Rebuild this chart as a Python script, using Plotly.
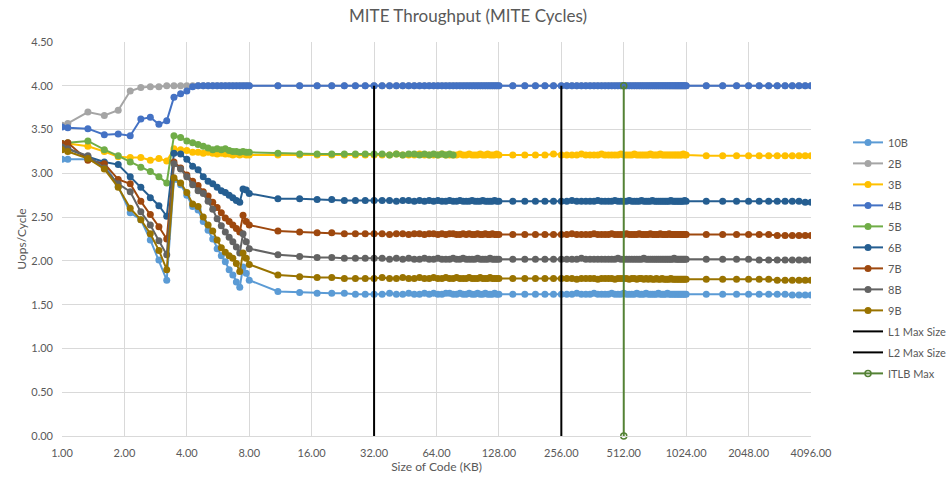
import math
import plotly.graph_objects as go

# Code size (KB) of every measured block
size_kb = [
    1.0, 1.0667, 1.3333, 1.6, 1.8667, 2.1333, 2.4, 2.6667, 2.9333, 3.2,
    3.4667, 3.7333, 4.0, 4.2667, 4.5333, 4.8, 5.0667, 5.3333, 5.6, 5.8667,
    6.1333, 6.4, 6.6667, 6.9333, 7.2, 7.4667, 7.7333, 8.0,
    11, 14, 17, 20, 23, 26, 29,
    32, 35, 38, 41, 44, 47, 50, 53, 56, 59, 62,
    65, 68, 71, 74, 77, 80, 83, 86, 89, 92, 95,
    98, 101, 104, 107, 110, 113, 116, 119, 122, 125, 128,
    149.33, 170.67, 192, 213.33, 234.67,
    256, 272, 288, 304, 320, 336, 352,
    368, 384, 400, 416, 432, 448, 464,
    480, 496, 512, 528, 544, 560, 576,
    592, 608, 624, 640, 656, 672, 688,
    704, 720, 736, 752, 768, 784, 800,
    816, 832, 848, 864, 880, 896, 912,
    928, 944, 960, 976, 992, 1008, 1024,
    1280, 1536, 1792, 2048, 2304, 2560, 2816, 3072, 3328, 3584, 3840, 4096,
]

# Uops per MITE cycle for each instruction length
uops_10b = [
    3.16, 3.16, 3.16, 3.11, 2.85, 2.55, 2.47, 2.24, 2.01, 1.78,
    2.93, 2.87, 2.75, 2.62, 2.58, 2.45, 2.35, 2.25, 2.14, 2.06,
    1.99, 1.90, 1.84, 1.76, 1.70, 1.93, 1.86, 1.78,
    1.65, 1.64, 1.63, 1.63, 1.63, 1.62, 1.62,
    1.62, 1.62, 1.63, 1.62, 1.62, 1.63, 1.62, 1.62, 1.63, 1.62, 1.63,
    1.62, 1.62, 1.63, 1.63, 1.62, 1.62, 1.63, 1.62, 1.62, 1.63, 1.62,
    1.62, 1.63, 1.62, 1.62, 1.63, 1.62, 1.62, 1.62, 1.63, 1.62, 1.62,
    1.62, 1.62, 1.62, 1.62, 1.62,
    1.62, 1.62, 1.62, 1.63, 1.62, 1.62, 1.62,
    1.63, 1.62, 1.62, 1.62, 1.62, 1.63, 1.62,
    1.62, 1.62, 1.63, 1.62, 1.62, 1.62, 1.62,
    1.63, 1.62, 1.62, 1.62, 1.63, 1.62, 1.62,
    1.62, 1.62, 1.62, 1.63, 1.62, 1.62, 1.62,
    1.62, 1.63, 1.62, 1.62, 1.62, 1.62, 1.62,
    1.62, 1.62, 1.62, 1.62, 1.62, 1.62, 1.62,
    1.62, 1.62, 1.62, 1.62, 1.62, 1.62, 1.62, 1.62, 1.61, 1.61, 1.61, 1.61,
]

uops_2b = [
    3.55, 3.57, 3.70, 3.66, 3.72, 3.94, 3.98, 3.99, 3.99, 4.00,
    4.00, 4.00, 4.00, 4.00, 4.00, 4.00, 4.00, 4.00, 4.00, 4.00,
    4.00, 4.00, 4.00, 4.00, 4.00, 4.00, 4.00, 4.00,
    4.00, 4.00, 4.00, 4.00, 4.00, 4.00, 4.00,
    4.00, 4.00, 4.00, 4.00, 4.00, 4.00, 4.00, 4.00, 4.00, 4.00, 4.00,
    4.00, 4.00, 4.00, 4.00, 4.00, 4.00, 4.00, 4.00, 4.00, 4.00, 4.00,
    4.00, 4.00, 4.00, 4.00, 4.00, 4.00, 4.00, 4.00, 4.00, 4.00, 4.00,
    4.00, 4.00, 4.00, 4.00, 4.00,
    4.00, 4.00, 4.00, 4.00, 4.00, 4.00, 4.00,
    4.00, 4.00, 4.00, 4.00, 4.00, 4.00, 4.00,
    4.00, 4.00, 4.00, 4.00, 4.00, 4.00, 4.00,
    4.00, 4.00, 4.00, 4.00, 4.00, 4.00, 4.00,
    4.00, 4.00, 4.00, 4.00, 4.00, 4.00, 4.00,
    4.00, 4.00, 4.00, 4.00, 4.00, 4.00, 4.00,
    4.00, 4.00, 4.00, 4.00, 4.00, 4.00, 4.00,
    4.00, 4.00, 4.00, 4.00, 4.00, 4.00, 4.00, 4.00, 4.00, 4.00, 4.00, 4.00,
]

uops_3b = [
    3.33, 3.34, 3.31, 3.25, 3.19, 3.18, 3.18, 3.15, 3.17, 3.14,
    3.28, 3.27, 3.26, 3.24, 3.24, 3.23, 3.24, 3.23, 3.22, 3.23,
    3.22, 3.22, 3.21, 3.22, 3.21, 3.22, 3.21, 3.21,
    3.21, 3.21, 3.21, 3.21, 3.21, 3.21, 3.21,
    3.21, 3.21, 3.21, 3.22, 3.21, 3.21, 3.21, 3.22, 3.21, 3.21, 3.21,
    3.21, 3.22, 3.21, 3.21, 3.21, 3.21, 3.22, 3.21, 3.21, 3.22, 3.21,
    3.21, 3.21, 3.22, 3.21, 3.21, 3.22, 3.21, 3.21, 3.21, 3.22, 3.21,
    3.21, 3.21, 3.21, 3.21, 3.22,
    3.21, 3.21, 3.21, 3.21, 3.22, 3.21, 3.21,
    3.21, 3.21, 3.22, 3.21, 3.21, 3.21, 3.21,
    3.21, 3.22, 3.21, 3.21, 3.21, 3.21, 3.22,
    3.21, 3.21, 3.21, 3.21, 3.21, 3.21, 3.22,
    3.21, 3.21, 3.21, 3.21, 3.22, 3.21, 3.21,
    3.21, 3.21, 3.21, 3.21, 3.21, 3.21, 3.21,
    3.21, 3.21, 3.21, 3.21, 3.22, 3.21, 3.21,
    3.20, 3.20, 3.20, 3.20, 3.20, 3.20, 3.20, 3.20, 3.20, 3.20, 3.20, 3.20,
]

uops_4b = [
    3.53, 3.52, 3.51, 3.44, 3.45, 3.43, 3.62, 3.64, 3.56, 3.60,
    3.87, 3.91, 3.94, 3.99, 4.00, 4.00, 4.00, 4.00, 4.00, 4.00,
    4.00, 4.00, 4.00, 4.00, 4.00, 4.00, 4.00, 4.00,
    4.00, 4.00, 4.00, 4.00, 4.00, 4.00, 4.00,
    4.00, 4.00, 4.00, 4.00, 4.00, 4.00, 4.00, 4.00, 4.00, 4.00, 4.00,
    4.00, 4.00, 4.00, 4.00, 4.00, 4.00, 4.00, 4.00, 4.00, 4.00, 4.00,
    4.00, 4.00, 4.00, 4.00, 4.00, 4.00, 4.00, 4.00, 4.00, 4.00, 4.00,
    4.00, 4.00, 4.00, 4.00, 4.00,
    4.00, 4.00, 4.00, 4.00, 4.00, 4.00, 4.00,
    4.00, 4.00, 4.00, 4.00, 4.00, 4.00, 4.00,
    4.00, 4.00, 4.00, 4.00, 4.00, 4.00, 4.00,
    4.00, 4.00, 4.00, 4.00, 4.00, 4.00, 4.00,
    4.00, 4.00, 4.00, 4.00, 4.00, 4.00, 4.00,
    4.00, 4.00, 4.00, 4.00, 4.00, 4.00, 4.00,
    4.00, 4.00, 4.00, 4.00, 4.00, 4.00, 4.00,
    4.00, 4.00, 4.00, 4.00, 4.00, 4.00, 4.00, 4.00, 4.00, 4.00, 4.00, 4.00,
]

# 5B was only measured up to 77 KB
uops_5b = [
    3.34, 3.35, 3.37, 3.27, 3.20, 3.13, 3.07, 3.02, 2.96, 2.89,
    3.43, 3.41, 3.37, 3.35, 3.33, 3.31, 3.29, 3.27, 3.28, 3.27,
    3.28, 3.26, 3.25, 3.25, 3.24, 3.25, 3.24, 3.24,
    3.23, 3.22, 3.22, 3.22, 3.22, 3.22, 3.22,
    3.22, 3.22, 3.21, 3.22, 3.21, 3.22, 3.22, 3.21, 3.22, 3.21, 3.22,
    3.21, 3.22, 3.21, 3.22, 3.21,
]

uops_6b = [
    3.30, 3.28, 3.19, 3.13, 3.10, 2.96, 2.84, 2.72, 2.63, 2.51,
    3.23, 3.22, 3.16, 3.08, 3.04, 2.96, 2.91, 2.88, 2.84, 2.80,
    2.78, 2.75, 2.72, 2.69, 2.67, 2.82, 2.81, 2.77,
    2.71, 2.71, 2.70, 2.70, 2.69, 2.69, 2.69,
    2.69, 2.69, 2.69, 2.68, 2.69, 2.69, 2.68, 2.69, 2.68, 2.69, 2.68,
    2.69, 2.68, 2.68, 2.69, 2.68, 2.68, 2.69, 2.68, 2.68, 2.68, 2.69,
    2.68, 2.68, 2.68, 2.69, 2.68, 2.68, 2.68, 2.68, 2.69, 2.68, 2.68,
    2.68, 2.68, 2.68, 2.68, 2.68,
    2.68, 2.68, 2.69, 2.68, 2.68, 2.68, 2.68,
    2.68, 2.69, 2.68, 2.68, 2.68, 2.68, 2.69,
    2.68, 2.68, 2.68, 2.68, 2.69, 2.68, 2.68,
    2.68, 2.68, 2.69, 2.68, 2.68, 2.68, 2.68,
    2.69, 2.68, 2.68, 2.68, 2.68, 2.68, 2.68,
    2.68, 2.68, 2.68, 2.69, 2.68, 2.68, 2.68,
    2.68, 2.68, 2.68, 2.68, 2.68, 2.69, 2.68,
    2.68, 2.68, 2.68, 2.68, 2.68, 2.68, 2.68, 2.68, 2.68, 2.68, 2.67, 2.67,
]

uops_7b = [
    3.34, 3.35, 3.15, 3.11, 2.93, 2.88, 2.68, 2.53, 2.39, 2.25,
    3.13, 3.06, 2.98, 2.91, 2.86, 2.79, 2.74, 2.67, 2.61, 2.55,
    2.49, 2.45, 2.41, 2.37, 2.33, 2.52, 2.45, 2.41,
    2.34, 2.33, 2.32, 2.32, 2.31, 2.31, 2.31,
    2.31, 2.31, 2.30, 2.31, 2.31, 2.30, 2.31, 2.31, 2.30, 2.31, 2.31,
    2.30, 2.31, 2.30, 2.31, 2.31, 2.30, 2.30, 2.31, 2.30, 2.31, 2.30,
    2.30, 2.31, 2.30, 2.30, 2.31, 2.30, 2.30, 2.31, 2.30, 2.30, 2.30,
    2.30, 2.30, 2.30, 2.30, 2.30,
    2.30, 2.30, 2.31, 2.30, 2.30, 2.30, 2.30,
    2.31, 2.30, 2.30, 2.30, 2.30, 2.31, 2.30,
    2.30, 2.30, 2.30, 2.31, 2.30, 2.30, 2.30,
    2.30, 2.31, 2.30, 2.30, 2.30, 2.30, 2.31,
    2.30, 2.30, 2.30, 2.30, 2.31, 2.30, 2.30,
    2.30, 2.30, 2.31, 2.30, 2.30, 2.30, 2.30,
    2.30, 2.30, 2.30, 2.30, 2.30, 2.30, 2.30,
    2.30, 2.30, 2.30, 2.30, 2.30, 2.30, 2.29, 2.29, 2.29, 2.29, 2.29, 2.29,
]

uops_8b = [
    3.30, 3.28, 3.20, 3.06, 2.88, 2.79, 2.56, 2.41, 2.23, 2.07,
    3.11, 3.05, 2.96, 2.87, 2.80, 2.77, 2.68, 2.59, 2.48, 2.40,
    2.33, 2.27, 2.22, 2.16, 2.09, 2.31, 2.22, 2.14,
    2.07, 2.05, 2.04, 2.04, 2.03, 2.03, 2.03,
    2.03, 2.03, 2.02, 2.03, 2.02, 2.03, 2.02, 2.02, 2.03, 2.02, 2.02,
    2.03, 2.02, 2.02, 2.02, 2.03, 2.02, 2.02, 2.03, 2.02, 2.02, 2.02,
    2.02, 2.03, 2.02, 2.02, 2.02, 2.02, 2.03, 2.02, 2.02, 2.02, 2.02,
    2.02, 2.02, 2.02, 2.02, 2.02,
    2.02, 2.02, 2.02, 2.02, 2.03, 2.02, 2.02,
    2.02, 2.02, 2.02, 2.02, 2.02, 2.02, 2.02,
    2.03, 2.02, 2.02, 2.02, 2.02, 2.02, 2.02,
    2.02, 2.02, 2.02, 2.03, 2.02, 2.02, 2.02,
    2.02, 2.02, 2.02, 2.02, 2.02, 2.02, 2.02,
    2.02, 2.02, 2.02, 2.02, 2.02, 2.03, 2.02,
    2.02, 2.02, 2.02, 2.02, 2.02, 2.02, 2.02,
    2.02, 2.02, 2.02, 2.02, 2.01, 2.01, 2.01, 2.01, 2.01, 2.01, 2.01, 2.01,
]

uops_9b = [
    3.27, 3.25, 3.17, 3.05, 2.84, 2.60, 2.47, 2.31, 2.12, 1.90,
    2.95, 2.89, 2.78, 2.65, 2.62, 2.50, 2.41, 2.34, 2.24, 2.15,
    2.10, 2.06, 2.03, 1.97, 1.88, 2.09, 2.03, 1.96,
    1.84, 1.82, 1.81, 1.81, 1.80, 1.80, 1.80,
    1.80, 1.81, 1.80, 1.80, 1.81, 1.80, 1.80, 1.81, 1.80, 1.80, 1.81,
    1.80, 1.80, 1.81, 1.80, 1.80, 1.81, 1.80, 1.80, 1.80, 1.81, 1.80,
    1.80, 1.80, 1.81, 1.80, 1.80, 1.80, 1.81, 1.80, 1.80, 1.80, 1.80,
    1.80, 1.80, 1.80, 1.80, 1.80,
    1.80, 1.80, 1.80, 1.79, 1.80, 1.80, 1.80,
    1.80, 1.79, 1.80, 1.80, 1.80, 1.80, 1.79,
    1.80, 1.80, 1.80, 1.80, 1.79, 1.80, 1.80,
    1.79, 1.80, 1.80, 1.79, 1.80, 1.79, 1.80,
    1.79, 1.79, 1.80, 1.79, 1.79, 1.80, 1.79,
    1.79, 1.79, 1.79, 1.80, 1.79, 1.79, 1.79,
    1.79, 1.79, 1.79, 1.79, 1.79, 1.79, 1.79,
    1.79, 1.79, 1.79, 1.79, 1.79, 1.79, 1.78, 1.78, 1.78, 1.78, 1.78, 1.78,
]

series_names = ["10B", "2B", "3B", "4B", "5B", "6B", "7B", "8B", "9B"]
series_values = [uops_10b, uops_2b, uops_3b, uops_4b, uops_5b,
                 uops_6b, uops_7b, uops_8b, uops_9b]
series_colors = ["#5B9BD5", "#A5A5A5", "#FFC000", "#4472C4", "#70AD47",
                 "#255E91", "#9E480E", "#636363", "#997300"]

# Cache / TLB capacity markers (KB) and their vertical extent
limit_names = ["L1 Max Size", "L2 Max Size", "ITLB Max"]
limit_sizes = [32, 256, 512]
limit_colors = ["#000000", "#000000", "#548235"]
limit_span = [0.0, 4.0]

tick_sizes = [1, 2, 4, 8, 16, 32, 64, 128, 256, 512, 1024, 2048, 4096]
tick_labels = [f"{v:.2f}" for v in tick_sizes]

FONT = "Lato, 'Open Sans', sans-serif"
TEXT = "#595959"
GRID = "#D9D9D9"

fig = go.Figure()

for name, vals, col in zip(series_names, series_values, series_colors):
    fig.add_trace(go.Scatter(
        x=size_kb[:len(vals)], y=vals, name=name, legendgroup=name,
        mode="lines+markers",
        line=dict(color=col, width=2),
        marker=dict(color=col, size=7),
    ))

for name, xv, col in zip(limit_names, limit_sizes, limit_colors):
    is_tlb = name.startswith("ITLB")
    fig.add_trace(go.Scatter(
        x=[xv, xv], y=limit_span, name=name, legendgroup=name,
        mode="lines+markers" if is_tlb else "lines",
        line=dict(color=col, width=2),
        marker=dict(symbol="circle-open", size=6, color=col, line=dict(width=1.5)),
        cliponaxis=False,
    ))

fig.update_layout(
    width=948, height=479,
    margin=dict(l=62, r=137, t=42, b=43, autoexpand=False),
    paper_bgcolor="white", plot_bgcolor="white",
    font=dict(family=FONT, color=TEXT, size=11),
    title=dict(text="MITE Throughput (MITE Cycles)", x=468 / 948, xanchor="center",
               y=1 - 16 / 479, yanchor="middle", yref="container",
               font=dict(family=FONT, size=17, color=TEXT)),
    showlegend=True,
    legend=dict(x=(848 - 62) / 749, xanchor="left", y=0.782, yanchor="top",
                font=dict(size=11, color=TEXT), tracegroupgap=2,
                bgcolor="rgba(0,0,0,0)", borderwidth=0),
    xaxis=dict(type="log", range=[0, math.log10(4096)],
               tickmode="array", tickvals=tick_sizes, ticktext=tick_labels,
               showgrid=True, gridcolor=GRID, gridwidth=1,
               showline=True, linecolor=GRID, linewidth=1, ticks="",
               ticklabelstandoff=7,
               tickfont=dict(size=11, color=TEXT),
               title=dict(text="Size of Code (KB)", standoff=4,
                          font=dict(size=12, color=TEXT))),
    yaxis=dict(range=[0, 4.5], dtick=0.5, tick0=0, tickformat=".2f",
               showgrid=True, gridcolor=GRID, gridwidth=1, zeroline=False,
               showline=False, ticks="", ticklabelstandoff=8,
               tickfont=dict(size=11, color=TEXT),
               title=dict(text="Uops/Cycle", standoff=2,
                          font=dict(size=12, color=TEXT))),
)

fig.write_html("out.html")
